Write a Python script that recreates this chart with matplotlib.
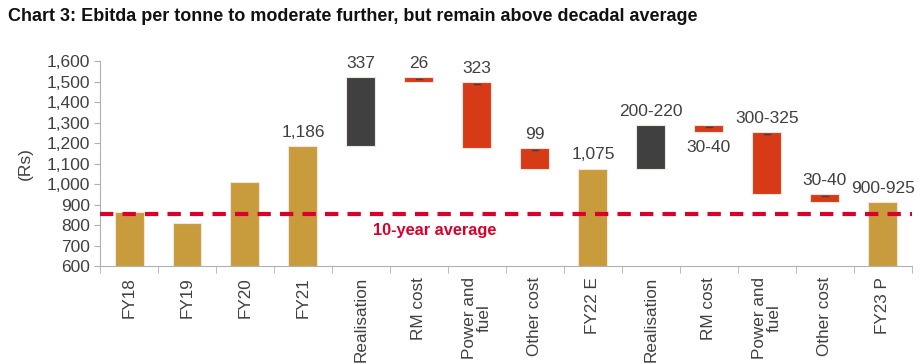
import matplotlib
matplotlib.use("Agg")
import matplotlib.pyplot as plt
import numpy as np

plt.rcParams['font.family'] = ['Liberation Sans', 'DejaVu Sans']

categories = ["FY18", "FY19", "FY20", "FY21", "Realisation", "RM cost", "Power and\nfuel",
              "Other cost", "FY22 E", "Realisation", "RM cost", "Power and\nfuel", "Other cost", "FY23 P"]
# bar bottoms and tops (Rs per tonne)
bottoms = [600, 600, 600, 600, 1186, 1497, 1174, 1075, 600, 1075, 1252, 952, 915, 600]
tops    = [865, 810, 1010, 1186, 1523, 1523, 1497, 1174, 1075, 1287, 1287, 1252, 952, 913]
kinds   = ["total", "total", "total", "total", "up", "down", "down", "down", "total",
           "up", "down", "down", "down", "total"]
labels  = ["", "", "", "1,186", "337", "26", "323", "99", "1,075",
           "200-220", "30-40", "300-325", "30-40", "900-925"]
label_below = [False]*10 + [True] + [False]*3
avg_10yr = 855

colors = {"total": "#C89B3C", "up": "#404040", "down": "#D63A17"}

fig = plt.figure(figsize=(9.21, 3.64), dpi=100)
ax = fig.add_axes([0.1086, 0.269, 0.8814, 0.563])

x = np.arange(len(categories))
heights = [t - b for t, b in zip(tops, bottoms)]
ax.bar(x, heights, bottom=bottoms, width=0.5,
       color=[colors[k] for k in kinds], edgecolor="#F2E6DC", linewidth=0.8, zorder=2)

# small marks on the cost bars
for xi, t, k in zip(x, tops, kinds):
    if k == "down":
        ax.plot([xi - 0.05, xi + 0.05], [t - 8, t - 8], color="#404040", lw=1.0, zorder=3)

for xi, t, b, lab, below in zip(x, tops, bottoms, labels, label_below):
    if not lab:
        continue
    if below:
        ax.annotate(lab, (xi, b), xytext=(0, -11), textcoords="offset points",
                    ha="center", va="center", fontsize=12.5, color="#404040")
    else:
        ax.annotate(lab, (xi, t), xytext=(0, 10), textcoords="offset points",
                    ha="center", va="center", fontsize=12.5, color="#404040")

ax.axhline(avg_10yr, color="#D9002B", lw=3, dashes=(3.2, 2.2), zorder=4)
ax.text(5.28, avg_10yr - 80, "10-year average", color="#D9002B", fontsize=11.8,
        fontweight="bold", ha="center", va="center")

ax.set_xlim(-0.5, len(categories) - 0.5)
ax.set_ylim(600, 1600)
ax.set_yticks(np.arange(600, 1601, 100))
ax.set_yticklabels([f"{v:,}" for v in range(600, 1601, 100)], fontsize=12.5, color="#404040")
ax.set_ylabel("(Rs)", fontsize=12.5, color="#404040", labelpad=10)

ax.set_xticks(x)
ax.set_xticklabels(categories, rotation=90, fontsize=12.3, color="#404040",
                   va="top", ha="center", multialignment="center", linespacing=0.95)
ax.tick_params(axis="x", length=0, pad=8)
ax.set_xticks(np.arange(-0.5, len(categories), 1), minor=True)
ax.tick_params(axis="x", which="minor", length=5, color="#B0B0B0")
ax.tick_params(axis="y", length=4, color="#B0B0B0", pad=3)

for s in ["top", "right"]:
    ax.spines[s].set_visible(False)
for s in ["left", "bottom"]:
    ax.spines[s].set_color("#B0B0B0")

fig.text(0.009, 0.954, "Chart 3: Ebitda per tonne to moderate further, but remain above decadal average",
         fontsize=13, fontweight="bold", ha="left", va="center", color="#111111")

fig.savefig("out.png", dpi=100)
